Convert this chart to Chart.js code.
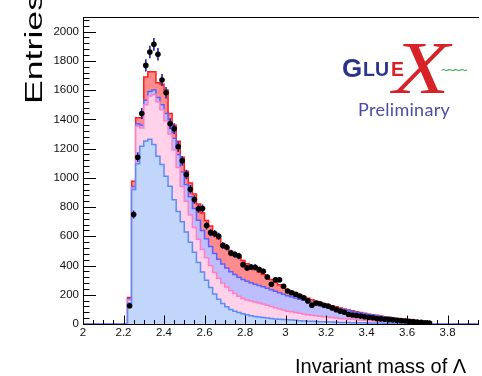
<!DOCTYPE html>
<html><head><meta charset="utf-8">
<script src="https://cdn.jsdelivr.net/npm/chart.js@4/dist/chart.umd.min.js"></script>
<style>
html,body{margin:0;padding:0;background:#fff;overflow:hidden;width:482px;height:376px;}
#wrap{position:absolute;left:0;top:0;width:482px;height:376px;}
canvas{position:absolute;left:0;top:0;}
.t{position:absolute;white-space:nowrap;margin:0;padding:0;}
</style></head><body>
<div id="wrap"><canvas id="c" width="482" height="376"></canvas>
<div class="t" id="ytitle" style="left:23px;top:104px;font:23px/23px 'Liberation Sans',Arial,sans-serif;color:#000;transform-origin:0 0;transform:rotate(-90deg) scaleX(1.55);">Entries</div>
<div class="t" id="xtitle" style="left:295px;top:356px;font:20px/20px 'Liberation Sans',Arial,sans-serif;color:#000;">Invariant mass of Λ</div>
<div class="t" style="left:342px;top:55px;font:bold 26px/26px 'Liberation Sans',Arial,sans-serif;color:rgb(43,52,140);">G</div>
<div class="t" style="left:363px;top:59.5px;font:bold 19.5px/19.5px 'Liberation Sans',Arial,sans-serif;color:rgb(43,52,140);">LU</div>
<div class="t" style="left:391px;top:59.5px;font:bold 19.5px/19.5px 'Liberation Sans',Arial,sans-serif;color:rgb(215,35,40);">E</div>
<div class="t" style="left:393px;top:31px;font:italic 74px/74px 'Liberation Serif','DejaVu Serif',serif;color:rgb(215,35,40);transform-origin:0 0;transform:scaleX(1.25);">X</div>
<div class="t" style="left:441px;top:63px;font:14px/14px 'Liberation Sans',Arial,sans-serif;letter-spacing:-2px;color:rgb(60,170,70);">~~~~</div>
<div class="t" style="left:358px;top:100px;font:18px/18px Lato,'Open Sans',sans-serif;letter-spacing:0.3px;color:rgb(75,75,165);">Preliminary</div>
</div>
<script>
// histogram bins (low edges), width 0.02
const binWidth = 0.02;
const binLow = [2.22,2.24,2.26,2.28,2.30,2.32,2.34,2.36,2.38,2.40,
 2.42,2.44,2.46,2.48,2.50,2.52,2.54,2.56,2.58,2.60,
 2.62,2.64,2.66,2.68,2.70,2.72,2.74,2.76,2.78,2.80,
 2.82,2.84,2.86,2.88,2.90,2.92,2.94,2.96,2.98,3.00,
 3.02,3.04,3.06,3.08,3.10,3.12,3.14,3.16,3.18,3.20,
 3.22,3.24,3.26,3.28,3.30,3.32,3.34,3.36,3.38,3.40,
 3.42,3.44,3.46,3.48,3.50,3.52,3.54,3.56,3.58,3.60,
 3.62,3.64,3.66,3.68,3.70];
// stacked components (bottom to top)
const compBlue = [144,920,1096,1216,1251,1263,1228,1148,1091,1011,
 942,850,770,700,630,560,490,420,355,300,
 250,205,170,140,118,100,88,78,70,63,
 57,52,48,44,41,38,35,33,31,29,
 27,25,23,21,19,18,17,16,15,14,
 13,12,11,10,10,9,9,8,8,7,
 7,6,6,5,5,5,4,4,4,3,
 3,3,2,2,2];
const compPink = [21,10,257,124,249,297,342,372,374,379,
 358,340,300,240,210,185,170,160,155,153,
 150,147,143,140,135,128,120,112,105,102,
 100,98,95,92,87,82,77,71,65,59,
 56,53,50,47,45,42,39,37,35,33,
 31,29,27,26,24,23,21,20,18,17,
 15,14,12,12,11,9,9,8,7,7,
 6,5,5,4,3];
const compLavender = [7,10,17,20,30,30,30,30,35,50,
 60,80,90,100,115,125,130,130,130,130,
 130,130,130,130,130,130,130,130,130,127,
 125,122,120,118,116,114,112,110,108,106,
 103,100,97,94,91,88,85,82,79,76,
 73,70,66,62,58,54,50,47,44,41,
 40,37,34,31,28,25,23,21,19,17,
 15,13,11,9,8];
const compRed = [10,37,40,50,160,135,125,100,140,160,
 80,90,90,100,90,95,100,110,120,125,
 140,140,140,140,140,140,140,140,130,120,
 110,100,92,85,78,70,62,55,48,40,
 36,32,28,25,21,18,15,12,10,8,
 8,7,6,5,4,4,3,3,3,2,
 2,2,2,2,2,2,2,2,2,2,
 2,1,1,1,1];
// data points (entries) and errors
const dataVals = [125,749,1141,1440,1769,1860,1913,1845,1669,1582,
 1370,1336,1212,1116,1023,922,851,788,790,673,
 625,618,600,537,525,486,475,465,406,383,
 390,388,372,360,322,272,302,303,258,226,
 214,203,192,180,158,128,143,139,128,122,
 110,98,88,80,66,62,58,54,50,46,
 42,38,35,32,30,28,25,23,21,18,
 16,14,11,9,7];
const dataErr = [11,27,34,38,42,43,44,43,41,40,
 37,37,35,33,32,30,29,28,28,26,
 25,25,24,23,23,22,22,22,20,20,
 20,20,19,19,18,16,17,17,16,15,
 15,14,14,13,13,11,12,12,11,11,
 10,10,9,9,8,8,8,7,7,7,
 6,6,6,6,5,5,5,5,5,4,
 4,4,3,3,3];
const xMin = 2.0, xMax = 3.95, yMin = 0, yMax = 2100;
const xTicks = [2.0,2.2,2.4,2.6,2.8,3.0,3.2,3.4,3.6,3.8];
const xTickLabels = ['2','2.2','2.4','2.6','2.8','3','3.2','3.4','3.6','3.8'];
const yTicks = [0,200,400,600,800,1000,1200,1400,1600,1800,2000];
const yTickLabels = ['0','200','400','600','800','1000','1200','1400','1600','1800','2000'];

function histPoints(vals){
  const pts = [{x:xMin, y:0}];
  vals.forEach((v,i)=>pts.push({x:binLow[i], y:v}));
  pts.push({x:binLow[binLow.length-1]+binWidth, y:0});
  pts.push({x:xMax, y:0});
  return pts;
}
function histDs(label, vals, fillC, lineC, fill){
  return {type:'line', label, data:histPoints(vals), stepped:'before', fill,
    backgroundColor:fillC, borderColor:lineC, borderWidth:1.5, pointRadius:0, tension:0, order:0};
}
const dataPts = dataVals.map((v,i)=>({x:binLow[i]+binWidth/2, y:v}));

const errorBars = {
  id:'errorBars',
  beforeDatasetDraw(chart, args){
    if(args.index !== 4) return;
    const {ctx, scales:{x,y}} = chart;
    ctx.save();
    ctx.strokeStyle = 'rgb(35,35,170)';
    ctx.lineWidth = 1.6;
    dataVals.forEach((v,i)=>{
      const px = x.getPixelForValue(binLow[i]+binWidth/2);
      ctx.beginPath();
      ctx.moveTo(px, y.getPixelForValue(v-dataErr[i]));
      ctx.lineTo(px, y.getPixelForValue(v+dataErr[i]));
      ctx.stroke();
    });
    ctx.restore();
  }
};
const axisDeco = {
  id:'axisDeco',
  beforeDatasetsDraw(chart){
    const {ctx, chartArea:a} = chart;
    ctx.save();
    ctx.strokeStyle = '#000';
    ctx.lineWidth = 1;
    ctx.beginPath();
    ctx.moveTo(a.right+1, a.top+0.5); ctx.lineTo(a.left+0.5, a.top+0.5);
    ctx.lineTo(a.left+0.5, a.bottom+0.5); ctx.lineTo(a.right+1, a.bottom+0.5);
    ctx.stroke();
    ctx.restore();
  },
  afterDatasetsDraw(chart){
    const {ctx, chartArea:a, scales:{x,y}} = chart;
    ctx.save();
    ctx.strokeStyle = '#000';
    ctx.lineWidth = 1;
    ctx.beginPath();
    ctx.moveTo(a.left+0.5, a.top); ctx.lineTo(a.left+0.5, a.bottom+1);
    for(let k=0;k<=52;k++){
      const v = k*40; const py = Math.round(y.getPixelForValue(v))+0.5;
      const len = (k%5===0)?13:6.5;
      ctx.moveTo(a.left, py); ctx.lineTo(a.left+len, py);
    }
    for(let k=0;k<=39;k++){
      const v = 2+k*0.05; const px = Math.round(x.getPixelForValue(v))+0.5;
      const len = (k%4===0)?8.5:4;
      ctx.moveTo(px, a.bottom); ctx.lineTo(px, a.bottom-len);
    }
    ctx.stroke();
    ctx.restore();
  }
};

new Chart(document.getElementById('c'), {
  type:'line',
  data:{datasets:[
    histDs('blue', compBlue, 'rgb(194,213,250)', 'rgb(90,140,250)', 'origin'),
    histDs('pink', compPink, 'rgb(255,210,234)', 'rgb(255,125,195)', '-1'),
    histDs('lavender', compLavender, 'rgb(190,190,255)', 'rgb(95,95,255)', '-1'),
    histDs('red', compRed, 'rgb(255,140,140)', 'rgb(255,30,30)', '-1'),
    {type:'scatter', label:'data', data:dataPts, stack:'data', showLine:false, order:-1,
     pointRadius:2.8, pointBackgroundColor:'#000', pointBorderColor:'#000', pointBorderWidth:0}
  ]},
  options:{
    responsive:false, animation:false, devicePixelRatio:1,
    layout:{padding:{top:17,left:0,right:0,bottom:0}},
    plugins:{legend:{display:false}, tooltip:{enabled:false}, title:{display:false}},
    scales:{
      x:{type:'linear', min:xMin, max:xMax,
        grid:{display:false, drawTicks:false}, border:{display:false},
        afterBuildTicks:(s)=>{ s.ticks = xTicks.map(v=>({value:v})); },
        afterFit:(s)=>{ s.height = 52; },
        ticks:{autoSkip:false, maxRotation:0, padding:2, color:'#111',
          font:{family:"'Liberation Sans', Arial, sans-serif", size:11.5},
          callback:(v,i)=>xTickLabels[i]}},
      y:{type:'linear', stacked:true, min:yMin, max:yMax,
        grid:{display:false, drawTicks:false}, border:{display:false},
        afterBuildTicks:(s)=>{ s.ticks = yTicks.map(v=>({value:v})); },
        afterFit:(s)=>{ s.width = 83; },
        ticks:{autoSkip:false, padding:4, color:'#111',
          font:{family:"'Liberation Sans', Arial, sans-serif", size:11.5},
          callback:(v,i)=>yTickLabels[i]}}
    }
  },
  plugins:[errorBars, axisDeco]
});
</script>
</body></html>
